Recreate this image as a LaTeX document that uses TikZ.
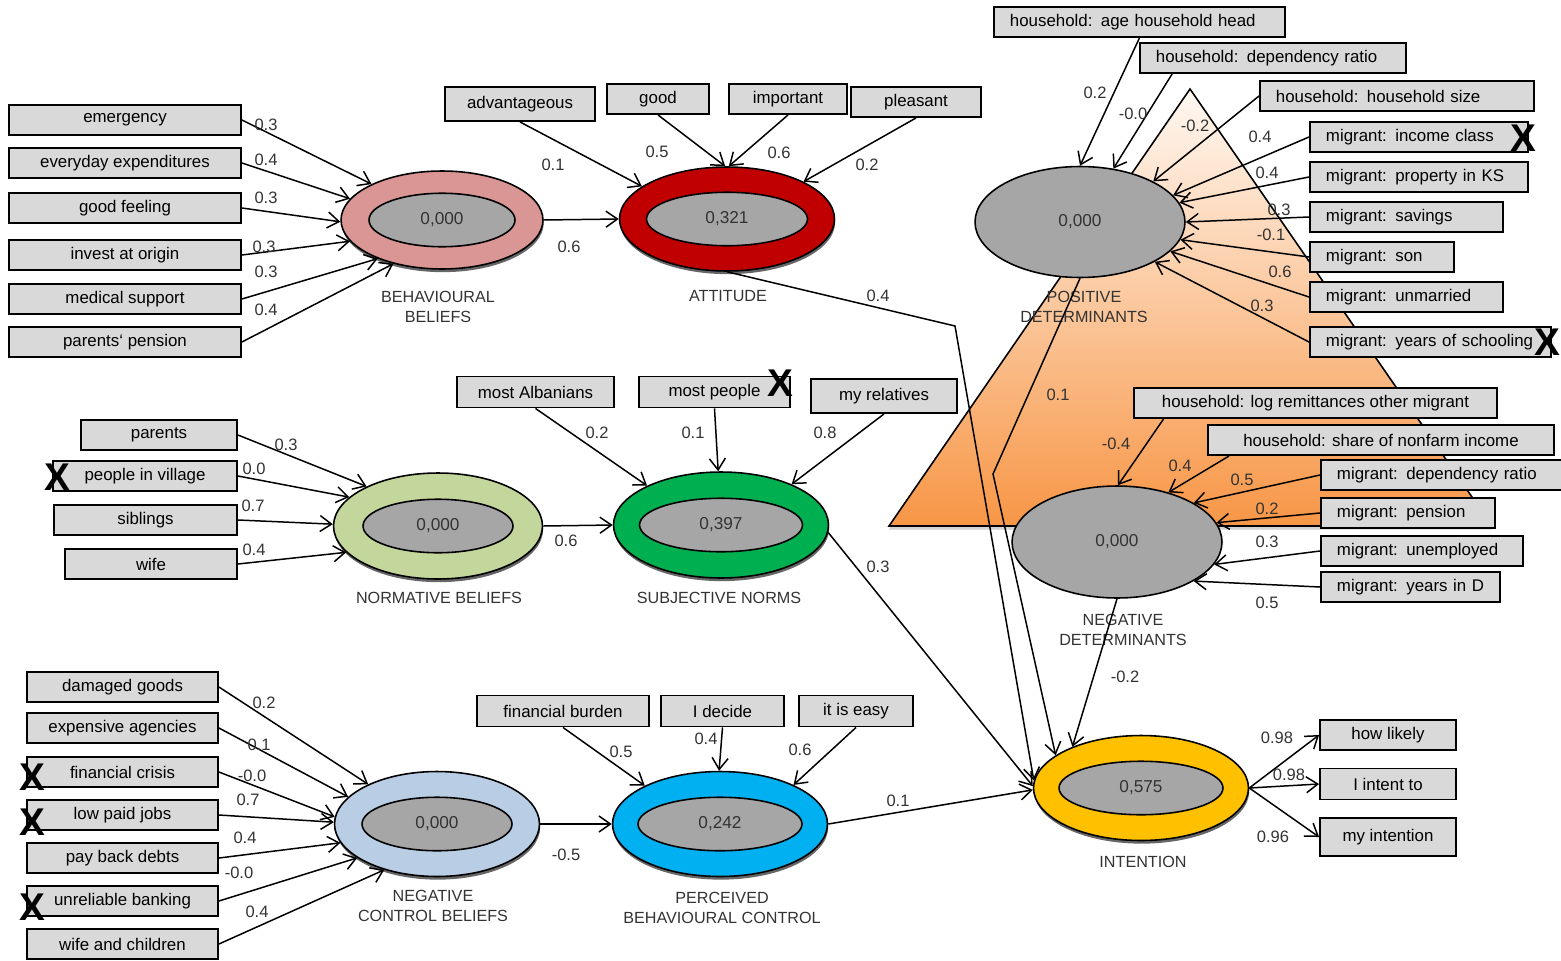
\documentclass[tikz,border=0pt]{standalone}
\usepackage{fontspec}
\setmainfont{Liberation Sans}
\usetikzlibrary{shapes.geometric,arrows.meta,shadows,positioning}
\definecolor{boxgray}{HTML}{D9D9D9}
\definecolor{ovalgray}{HTML}{A6A6A6}
\definecolor{txtgray}{HTML}{333333}
\definecolor{bbcol}{HTML}{D99694}
\definecolor{attcol}{HTML}{C00000}
\definecolor{nbcol}{HTML}{C3D69B}
\definecolor{sncol}{HTML}{00B050}
\definecolor{ncbcol}{HTML}{B9CDE5}
\definecolor{pbccol}{HTML}{00B0F0}
\definecolor{intcol}{HTML}{FFC000}
\definecolor{trioran}{HTML}{F79646}
\definecolor{trilight}{HTML}{FFF8F2}
\begin{document}
\begin{tikzpicture}[x=0.02cm,y=-0.02cm,
        item/.style={draw,line width=1.1pt,fill=boxgray,inner sep=0pt,minimum height=0.6cm,font=\fontsize{9.6}{11}\selectfont},
        itemL/.style={item,anchor=west,align=left,inner xsep=0.32cm},
        ring/.style={ellipse,draw,line width=0.9pt,inner sep=0pt,drop shadow={shadow xshift=0.4pt,shadow yshift=-1.8pt,fill=black!60,opacity=1}},
        core/.style={ellipse,draw,line width=0.9pt,fill=ovalgray,inner sep=0pt,minimum height=1.07cm,text=txtgray,font=\fontsize{9.8}{11}\selectfont},
        latent/.style={ellipse,draw,line width=0.9pt,fill=ovalgray,inner sep=0pt,minimum width=4.2cm,minimum height=2.22cm,text=txtgray,font=\fontsize{9.8}{11}\selectfont},
        capt/.style={align=center,text=txtgray,font=\fontsize{9.2}{11.4}\selectfont},
        wt/.style={inner sep=0pt,text=txtgray,font=\fontsize{9.4}{11}\selectfont},
        cross/.style={inner sep=0pt,font=\fontsize{22}{22}\selectfont\bfseries},
        arr/.style={line width=0.85pt,-{Straight Barb[length=2.3mm,width=3.2mm]}}
    ]
    \useasboundingbox (0,0) rectangle (1561,960);
    \draw[line width=0.9pt,top color=trilight,bottom color=trioran,drop shadow={shadow xshift=0pt,shadow yshift=-2pt,opacity=0.35}]
        (1190,89) -- (889,526) -- (1492,526) -- cycle;

    % latent variables
    \node[ring,fill=bbcol,minimum width=4.04cm,minimum height=1.96cm] (bb) at (442,220) {};
    \node[core,minimum width=2.92cm] (bbv) at (bb) {0,000};
    \node[capt] (bbl) at (438,307) {BEHAVIOURAL\\BELIEFS};
    \node[ring,fill=attcol,minimum width=4.3cm,minimum height=2.08cm] (att) at (727,219) {};
    \node[core,minimum width=3.22cm] (attv) at (att) {0,321};
    \node[capt] (attl) at (728,296) {ATTITUDE};
    \node[ring,fill=nbcol,minimum width=4.18cm,minimum height=2.12cm] (nb) at (438,526) {};
    \node[core,minimum width=3cm] (nbv) at (nb) {0,000};
    \node[capt] (nbl) at (439,598) {NORMATIVE BELIEFS};
    \node[ring,fill=sncol,minimum width=4.3cm,minimum height=2.12cm] (sn) at (721,525) {};
    \node[core,minimum width=3.26cm] (snv) at (sn) {0,397};
    \node[capt] (snl) at (719,598) {SUBJECTIVE NORMS};
    \node[ring,fill=ncbcol,minimum width=4.1cm,minimum height=2.1cm] (ncb) at (437,824) {};
    \node[core,minimum width=3cm] (ncbv) at (ncb) {0,000};
    \node[capt] (ncbl) at (433,906) {NEGATIVE\\CONTROL BELIEFS};
    \node[ring,fill=pbccol,minimum width=4.3cm,minimum height=2.1cm] (pbc) at (720,824) {};
    \node[core,minimum width=3.28cm] (pbcv) at (pbc) {0,242};
    \node[capt] (pbcl) at (722,908) {PERCEIVED\\BEHAVIOURAL CONTROL};
    \node[ring,fill=intcol,minimum width=4.3cm,minimum height=2.1cm] (int) at (1141,788) {};
    \node[core,minimum width=3.28cm] (intv) at (int) {0,575};
    \node[capt] (intl) at (1143,862) {INTENTION};
    \node[latent] (pos) at (1080,222) {0,000};
    \node[capt] (posl) at (1084,307) {POSITIVE\\DETERMINANTS};
    \node[latent,minimum height=2.24cm] (neg) at (1117,542) {0,000};
    \node[capt] (negl) at (1123,630) {NEGATIVE\\DETERMINANTS};

    % behavioural beliefs
    \foreach \n/\y/\t in {1/120/emergency,2/163/everyday expenditures,3/208/good feeling,4/255/invest at origin,5/299/medical support,6/342/parents‘ pension}
        \node[item,minimum width=4.64cm] (bb\n) at (125,\y) {\t};
    \foreach \n/\a/\x/\y/\v in {1/153/266/125/0.3,2/167/266/160/0.4,3/181/266/198/0.3,4/193/264/247/0.3,5/211/266/272/0.3,6/222/266/310/0.4} {
        \draw[arr] (bb\n.east) -- (bb.\a);
        \node[wt] (wbb\n) at (\x,\y) {\v};
    }

    % attitude
    \foreach \n/\x/\y/\w/\h/\t in {1/520/104/150/34/advantageous,2/658/99/102/30/good,3/788/99/118/30/important,4/916/102/130/30/pleasant} {
        \pgfmathsetmacro\bw{\w/50}
        \pgfmathsetmacro\bh{\h/50}
        \node[item,minimum width=\bw cm,minimum height=\bh cm] (at\n) at (\x,\y) {\t};
    }
    \foreach \n/\a/\x/\y/\v in {1/159/553/165/0.1,2/92/657/152/0.5,3/88/779/153/0.6,4/26/867/165/0.2} {
        \draw[arr] (at\n.south) -- (att.\a);
        \node[wt] (wat\n) at (\x,\y) {\v};
    }
    \draw[arr] (bb.east) -- (att.west);
    \node[wt] (wbbatt) at (569,247) {0.6};

    % normative beliefs and subjective norms
    \foreach \n/\x/\y/\w/\t in {1/159/435/156/parents,2/145/476/184/people in village,3/145.5/520/183/siblings,4/151/564/172/wife}{
        \pgfmathsetmacro\bw{\w/50}
        \node[item,minimum width=\bw cm] (nb\n) at (\x,\y) {\t};
    }
    \foreach \n/\a/\x/\y/\v in {1/151/286/445/0.3,2/162/254/469/0.0,3/179/253/506/0.7,4/196/254/550/0.4} {
        \draw[arr] (nb\n.east) -- (nb.\a);
        \node[wt] (wnb\n) at (\x,\y) {\v};
    }
    \foreach \n/\x/\y/\w/\h/\t in {1/535.5/392/157/31/most Albanians,2/714.5/392/151/31/most people,3/884/396/146/34/my relatives} {
        \pgfmathsetmacro\bw{\w/50}
        \pgfmathsetmacro\bh{\h/50}
        \node[item,minimum width=\bw cm,minimum height=\bh cm] (sn\n) at (\x,\y) {\t};
    }
    \foreach \n/\a/\x/\y/\v in {1/152/597/433/0.2,2/93/693/433/0.1,3/30/825/433/0.8} {
        \draw[arr] (sn\n.south) -- (sn.\a);
        \node[wt] (wsn\n) at (\x,\y) {\v};
    }
    \draw[arr] (nb.east) -- (sn.west);
    \node[wt] (wnbsn) at (566,541) {0.6};

    % control beliefs and perceived control
    \foreach \n/\y/\t in {1/687/damaged goods,2/728/expensive agencies,3/772/financial crisis,4/815/low paid jobs,5/858/pay back debts,6/901/unreliable banking,7/944/wife and children}
        \node[item,minimum width=3.82cm] (nc\n) at (122.5,\y) {\t};
    \foreach \n/\a/\x/\y/\v in {1/150/264/703/0.2,2/163/259/745/0.1,3/176/252/776/-0.0,4/179/248/800/0.7,5/191/245/838/0.4,6/203/239/873/-0.0,7/221/257/912/0.4} {
        \draw[arr] (nc\n.east) -- (ncb.\a);
        \node[wt] (wnc\n) at (\x,\y) {\v};
    }
    \foreach \n/\x/\w/\t in {1/563/172/financial burden,2/722.5/123/I decide,3/856/114/it is easy} {
        \pgfmathsetmacro\bw{\w/50}
        \node[item,minimum width=\bw cm,minimum height=0.62cm] (pc\n) at (\x,711) {\t};
    }
    \foreach \n/\a/\x/\y/\v in {1/153/621/752/0.5,2/91/706/739/0.4,3/28/800/750/0.6} {
        \draw[arr] (pc\n.south) -- (pbc.\a);
        \node[wt] (wpc\n) at (\x,\y) {\v};
    }
    \draw[arr] (ncb.east) -- (pbc.west);
    \node[wt] (wncbpbc) at (566,855) {-0.5};

    % determinants
    \foreach \n/\x/\y/\w/\t in {1/993/22/291/household: age household head,2/1139/58/266/household: dependency ratio,3/1259/96/274/household: household size,4/1309/137/218/migrant: income class,5/1309/177/218/migrant: property in KS,6/1309/217/193/migrant: savings,7/1309/257/144/migrant: son,8/1309/297/193/migrant: unmarried,9/1309/342/241/migrant: years of schooling} {
        \pgfmathsetmacro\tw{(\w-32)/50}
        \node[itemL,text width=\tw cm] (p\n) at (\x,\y) {\mbox{\t}};
    }
    \foreach \n/\s/\a/\x/\y/\v in {1/south/90/1095/93/0.2,2/189/58/1133/114/-0.0,3/west/29/1195/126/-0.2,4/west/16/1260/137/0.4,5/west/11/1267/173/0.4,6/west/0/1279/210/0.3,7/west/350/1271/235/-0.1,8/west/342/1280/272/0.6,9/west/332/1262/306/0.3} {
        \draw[arr] (p\n.\s) -- (pos.\a);
        \node[wt] (wp\n) at (\x,\y) {\v};
    }
    \foreach \n/\x/\y/\w/\t in {1/1315.5/403/363/household: log remittances other migrant,2/1381/440/346/household: share of nonfarm income} {
        \pgfmathsetmacro\bw{\w/50}
        \node[item,minimum width=\bw cm] (n\n) at (\x,\y) {\t};
    }
    \foreach \n/\y/\w/\t in {3/475/241/migrant: dependency ratio,4/513/174/migrant: pension,5/551/202/migrant: unemployed,6/587/179/migrant: years in D} {
        \pgfmathsetmacro\tw{(\w-32)/50}
        \node[itemL,text width=\tw cm] (n\n) at (1320,\y) {\mbox{\t}};
    }
    \foreach \n/\s/\a/\x/\y/\v in {1/186/89/1116/444/-0.4,2/186/44/1180/466/0.4,3/west/27/1242/480/0.5,4/west/11/1267/509/0.2,5/west/347/1267/542/0.3,6/west/333/1267/603/0.5} {
        \draw[arr] (n\n.\s) -- (neg.\a);
        \node[wt] (wn\n) at (\x,\y) {\v};
    }

    % paths into intention
    \coordinate (attk) at (955,326);
    \coordinate (posk) at (993,474);
    \draw[arr] (att.south) -- (attk) -- (int.176);
    \node[wt] (wattint) at (878,296) {0.4};
    \draw[arr] (pos.south) -- (posk) -- (int.159);
    \node[wt] (wposint) at (1058,395) {0.1};
    \draw[arr] (neg.south) -- (int.149);
    \node[wt] (wnegint) at (1125,677) {-0.2};
    \draw[arr] (sn.356) -- (int.179);
    \node[wt] (wsnint) at (878,567) {0.3};
    \draw[arr] (pbc.east) -- (int.181);
    \node[wt] (wpbcint) at (898,801) {0.1};

    % intention
    \foreach \n/\y/\h/\t/\x/\ly/\v in {1/735/30/how likely/1277/738/0.98,2/784/31/I intent to/1289/775/0.98,3/837/38/my intention/1273/837/0.96} {
        \pgfmathsetmacro\bh{\h/50}
        \node[item,minimum width=2.72cm,minimum height=\bh cm] (i\n) at (1388,\y) {\t};
        \draw[arr] (int.east) -- (i\n.west);
        \node[wt] (wi\n) at (\x,\ly) {\v};
    }

    % dropped items
    \foreach \n/\x/\y in {1/57/477,2/780/383,3/1523/138,4/1547/342,5/32/777,6/32/822,7/32/907}
        \node[cross] (x\n) at (\x,\y) {X};
\end{tikzpicture}
\end{document}
